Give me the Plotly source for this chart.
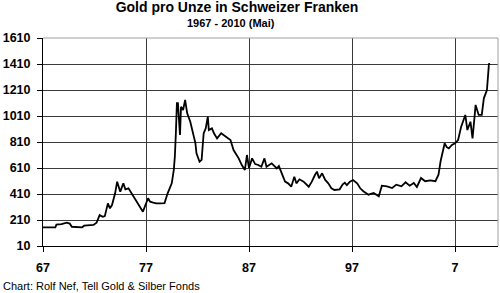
import plotly.graph_objects as go

# Data (year as decimal, CHF per ounce)
years = [1967.0, 1968.2, 1968.3, 1968.8, 1969.3, 1969.6, 1969.8, 1970.8, 1971.0, 1971.9,
         1972.2, 1972.5, 1972.8, 1973.0, 1973.3, 1973.5, 1973.7, 1974.0, 1974.2, 1974.5,
         1974.8, 1975.0, 1975.3, 1975.6, 1975.9, 1976.4, 1976.7, 1977.2, 1977.4, 1977.7,
         1978.0, 1978.4, 1978.8, 1979.1, 1979.5, 1979.7, 1979.8, 1979.9, 1980.0, 1980.1,
         1980.2, 1980.3, 1980.4, 1980.6, 1980.8, 1981.0, 1981.3, 1981.5, 1981.8, 1981.9,
         1982.2, 1982.4, 1982.6, 1982.8, 1983.0, 1983.1, 1983.4, 1983.6, 1983.9, 1984.3,
         1984.8, 1985.2, 1985.5, 1986.0, 1986.3, 1986.6, 1986.8, 1987.0, 1987.3, 1987.6,
         1987.9, 1988.2, 1988.5, 1988.7, 1989.2, 1989.7, 1989.9, 1990.2, 1990.5, 1990.8,
         1991.1, 1991.4, 1991.6, 1991.9, 1992.3, 1992.8, 1993.1, 1993.4, 1993.6, 1993.8,
         1994.1, 1994.4, 1994.7, 1995.0, 1995.3, 1995.8, 1996.1, 1996.3, 1996.5, 1996.8,
         1997.1, 1997.5, 1997.8, 1998.1, 1998.6, 1999.1, 1999.6, 1999.9, 2000.4, 2000.9,
         2001.3, 2001.8, 2002.2, 2002.6, 2003.0, 2003.3, 2003.7, 2004.1, 2004.6, 2005.1,
         2005.4, 2005.6, 2005.8, 2006.0, 2006.2, 2006.4, 2006.7, 2007.0, 2007.3, 2007.6,
         2008.0, 2008.2, 2008.5, 2008.7, 2008.9, 2009.0, 2009.3, 2009.6, 2009.8, 2010.0,
         2010.1, 2010.3, 2010.37]
prices = [154, 154, 174, 178, 189, 182, 158, 154, 166, 172,
          189, 248, 235, 240, 338, 300, 325, 415, 505, 428,
          492, 446, 454, 415, 369, 312, 274, 377, 351, 343,
          338, 338, 340, 415, 492, 595, 697, 877, 1108, 1108,
          980, 864, 1081, 1056, 1133, 1031, 966, 889, 800, 723,
          658, 672, 877, 915, 1005, 902, 915, 877, 838, 877,
          851, 825, 748, 684, 633, 595, 710, 610, 684, 640,
          633, 620, 684, 620, 646, 607, 625, 569, 505, 492,
          466, 543, 492, 523, 505, 466, 505, 556, 582, 531,
          569, 518, 492, 454, 441, 446, 485, 497, 479, 505,
          518, 492, 454, 431, 405, 418, 392, 474, 469, 456,
          482, 469, 500, 474, 495, 464, 533, 508, 515, 508,
          558, 662, 738, 800, 770, 761, 787, 800, 825, 928,
          1018, 902, 966, 838, 1005, 1095, 1018, 1018, 1146, 1197,
          1210, 1415, 1402]

x_tickvals = [1967, 1977, 1987, 1997, 2007]
x_ticktext = ["67", "77", "87", "97", "7"]
y_tickvals = [10, 210, 410, 610, 810, 1010, 1210, 1410, 1610]

title_text = "Gold pro Unze in Schweizer Franken"
subtitle_text = "1967 - 2010 (Mai)"
source_text = "Chart: Rolf Nef, Tell Gold & Silber Fonds"

FONT = "Liberation Sans, Arial, sans-serif"

fig = go.Figure()
fig.add_trace(go.Scatter(x=years, y=prices, mode="lines",
                         line=dict(color="black", width=1.8),
                         hoverinfo="skip", showlegend=False))

fig.update_layout(
    width=500, height=293,
    margin=dict(l=43, r=2, t=38, b=47),
    paper_bgcolor="white", plot_bgcolor="white",
    font=dict(family=FONT, color="black"),
    title=dict(text="<b>" + title_text + "</b>", x=237 / 500, xanchor="center",
               y=1 - 7 / 293, yanchor="middle", yref="container",
               font=dict(size=14, family=FONT, color="black")),
    xaxis=dict(range=[1967, 1967 + 455 / 10.3], tickvals=x_tickvals, ticktext=x_ticktext,
               showgrid=True, gridcolor="#3a3a3a", gridwidth=1,
               showline=True, linecolor="black", linewidth=1,
               ticks="outside", ticklen=5, tickcolor="black", ticklabelstandoff=5,
               tickfont=dict(size=12.5, family=FONT, color="black", weight="bold"),
               zeroline=False, fixedrange=True),
    yaxis=dict(range=[10, 1610], tickvals=y_tickvals,
               showgrid=True, gridcolor="#3a3a3a", gridwidth=1,
               showline=True, linecolor="black", linewidth=1,
               ticks="outside", ticklen=5, tickcolor="black", ticklabelstandoff=4,
               tickfont=dict(size=12.5, family=FONT, color="black", weight="bold"),
               zeroline=False, fixedrange=True),
)

# top and right border in grey
fig.add_shape(type="line", xref="paper", yref="paper", x0=0, x1=1, y0=1, y1=1,
              line=dict(color="#a0a0a0", width=1), layer="above")
fig.add_shape(type="line", xref="paper", yref="paper", x0=1, x1=1, y0=0, y1=1,
              line=dict(color="#a0a0a0", width=1), layer="above")

fig.add_annotation(text="<b>" + subtitle_text + "</b>", xref="paper", yref="paper",
                   x=(231 - 43) / 455, y=(246 - 23) / 208, xanchor="center", yanchor="middle",
                   showarrow=False, font=dict(size=11, family=FONT, color="black"))
fig.add_annotation(text=source_text, xref="paper", yref="paper",
                   x=(1 - 43) / 455, y=(246 - 285.5) / 208, xanchor="left", yanchor="middle",
                   showarrow=False, font=dict(size=11, family=FONT, color="black"))

fig.write_html("out.html")
